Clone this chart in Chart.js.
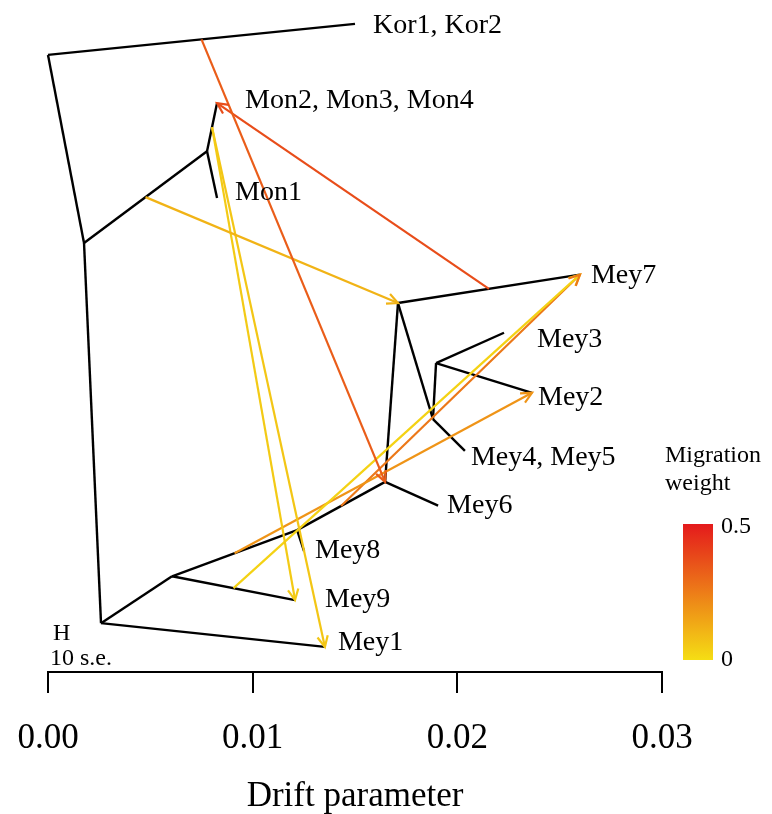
<!DOCTYPE html>
<html>
<head>
<meta charset="utf-8">
<script src="https://cdn.jsdelivr.net/npm/chart.js@4"></script>
<style>
  html, body { margin: 0; padding: 0; background: #fff; }
  #wrap { width: 772px; height: 814px; }
</style>
</head>
<body>
<div id="wrap"><canvas id="treeChart"></canvas></div>
<script>
// Tree nodes: drift on x, plot height (0..1) on y
const nodeIds = ["korTip", "korNode", "nodeA", "root", "monNode", "monTip", "mon1Tip", "mey1Tip", "nodeB",
  "mey9Tip", "mey8Node", "mey8Tip", "mey6Node", "mey6Tip", "mey7Node", "mey7Tip", "mey45Node", "mey45Tip",
  "mey23Node", "mey3Tip", "mey2Tip"];
const nodeDrift = [0.01500, 0.00000, 0.00176, 0.00259, 0.00777, 0.00826, 0.00826, 0.01353, 0.00606,
  0.01207, 0.01217, 0.01251, 0.01647, 0.01906, 0.01710, 0.02599, 0.01881, 0.02037,
  0.01896, 0.02228, 0.02365];
const nodeHeight = [0.982, 0.935, 0.650, 0.074, 0.789, 0.862, 0.718, 0.038, 0.145,
  0.109, 0.215, 0.183, 0.288, 0.252, 0.559, 0.602, 0.383, 0.335,
  0.468, 0.514, 0.423];

// Tree edges (parent -> child)
const edgeParent = ["root", "nodeA", "korNode", "nodeA", "monNode", "monNode", "root", "root", "nodeB", "nodeB",
  "mey8Node", "mey8Node", "mey6Node", "mey6Node", "mey7Node", "mey7Node", "mey45Node", "mey45Node", "mey23Node", "mey23Node"];
const edgeChild = ["nodeA", "korNode", "korTip", "monNode", "monTip", "mon1Tip", "mey1Tip", "nodeB", "mey9Tip", "mey8Node",
  "mey8Tip", "mey6Node", "mey6Tip", "mey7Node", "mey7Tip", "mey45Node", "mey45Tip", "mey23Node", "mey3Tip", "mey2Tip"];

// Tip labels
const tipNodes = ["korTip", "monTip", "mon1Tip", "mey7Tip", "mey3Tip", "mey2Tip", "mey45Tip", "mey6Tip", "mey8Tip", "mey9Tip", "mey1Tip"];
const tipLabels = ["Kor1, Kor2", "Mon2, Mon3, Mon4", "Mon1", "Mey7", "Mey3", "Mey2", "Mey4, Mey5", "Mey6", "Mey8", "Mey9", "Mey1"];

// Migration edges: source = midpoint of the edge above the given child node
const migSourceEdge = ["korTip", "mey7Tip", "monNode", "monTip", "monTip", "mey9Tip", "mey8Node", "mey6Node"];
const migTarget = ["mey6Node", "monTip", "mey7Node", "mey9Tip", "mey1Tip", "mey7Tip", "mey2Tip", "mey7Tip"];
const migWeight = [0.33, 0.37, 0.11, 0.05, 0.06, 0.03, 0.19, 0.26];

// Axis
const tickValues = [0, 0.01, 0.02, 0.03];
const tickLabels = ["0.00", "0.01", "0.02", "0.03"];

const serif = "'Liberation Serif', 'Times New Roman', serif";

function pt(id) {
  const i = nodeIds.indexOf(id);
  return { x: nodeDrift[i], y: nodeHeight[i] };
}

// yellow (0) -> red (0.5)
function weightColor(w) {
  const t = Math.max(0, Math.min(1, w / 0.5));
  const r = Math.round(245 - 17 * t);
  const g = Math.round(222 - 196 * t);
  const b = Math.round(20 + 8 * t);
  return `rgb(${r},${g},${b})`;
}

const datasets = [];
edgeParent.forEach((p, i) => {
  datasets.push({
    data: [pt(p), pt(edgeChild[i])],
    showLine: true, borderColor: "#000", borderWidth: 2.4,
    pointRadius: 0, pointHoverRadius: 0, clip: false, order: 1
  });
});
migSourceEdge.forEach((c, i) => {
  const parent = edgeParent[edgeChild.indexOf(c)];
  const a = pt(parent), b = pt(c);
  datasets.push({
    data: [{ x: (a.x + b.x) / 2, y: (a.y + b.y) / 2 }, pt(migTarget[i])],
    showLine: true, borderColor: weightColor(migWeight[i]), borderWidth: 2.2,
    pointRadius: 0, pointHoverRadius: 0, clip: false, order: 0, isMigration: true
  });
});

// Arrowheads at the end of each migration line
const arrowPlugin = {
  id: "arrows",
  afterDatasetsDraw(chart) {
    const ctx = chart.ctx;
    chart.data.datasets.forEach((ds, i) => {
      if (!ds.isMigration) return;
      const pts = chart.getDatasetMeta(i).data;
      const p0 = pts[0], p1 = pts[1];
      const ang = Math.atan2(p1.y - p0.y, p1.x - p0.x);
      const len = 12, spread = 0.45;
      ctx.save();
      ctx.strokeStyle = ds.borderColor;
      ctx.lineWidth = 2.2;
      ctx.beginPath();
      ctx.moveTo(p1.x - len * Math.cos(ang - spread), p1.y - len * Math.sin(ang - spread));
      ctx.lineTo(p1.x, p1.y);
      ctx.lineTo(p1.x - len * Math.cos(ang + spread), p1.y - len * Math.sin(ang + spread));
      ctx.stroke();
      ctx.restore();
    });
  }
};

// Tip labels, root label, colour key
const labelDx = [18, 28, 18, 11, 33, 6, 6, 9, 11, 30, 13];
const labelDy = [9, 5, 2, 8, 14, 12, 14, 7, 7, 7, 3];
const labelPlugin = {
  id: "labels",
  afterDraw(chart) {
    const ctx = chart.ctx;
    const xs = chart.scales.x, ys = chart.scales.y;
    ctx.save();
    ctx.fillStyle = "#000";
    ctx.textBaseline = "alphabetic";
    ctx.textAlign = "left";
    ctx.font = "28px " + serif;
    tipNodes.forEach((id, i) => {
      const p = pt(id);
      ctx.fillText(tipLabels[i], xs.getPixelForValue(p.x) + labelDx[i], ys.getPixelForValue(p.y) + labelDy[i]);
    });
    const r = pt("root");
    ctx.font = "24px " + serif;
    ctx.fillText("H", xs.getPixelForValue(r.x) - 48, ys.getPixelForValue(r.y) + 17);
    ctx.fillText("10 s.e.", 50, 665);

    // colour key
    ctx.fillText("Migration", 665, 462);
    ctx.fillText("weight", 665, 490);
    const top = 524, bottom = 660;
    const grad = ctx.createLinearGradient(0, bottom, 0, top);
    for (let k = 0; k <= 10; k++) grad.addColorStop(k / 10, weightColor(0.05 * k));
    ctx.fillStyle = grad;
    ctx.fillRect(683, top, 30, bottom - top);
    ctx.fillStyle = "#000";
    ctx.fillText("0.5", 721, 533);
    ctx.fillText("0", 721, 666);
    ctx.restore();
  }
};

new Chart(document.getElementById("treeChart"), {
  type: "scatter",
  data: { datasets },
  options: {
    responsive: true,
    maintainAspectRatio: false,
    animation: false,
    events: [],
    layout: { padding: { left: 48, right: 110, top: 12, bottom: 0 } },
    plugins: { legend: { display: false }, tooltip: { enabled: false } },
    scales: {
      x: {
        type: "linear", min: 0, max: 0.03,
        afterBuildTicks: (scale) => { scale.ticks = tickValues.map(v => ({ value: v })); },
        afterFit: (scale) => {
          scale.height = 142;
          scale.paddingLeft = 0;
          scale.paddingRight = 0;
        },
        border: { display: true, color: "#000", width: 2 },
        grid: { drawOnChartArea: false, drawTicks: true, tickLength: 21, color: "#000", lineWidth: 2 },
        ticks: {
          color: "#000", padding: 25, maxRotation: 0,
          font: { family: serif, size: 35 },
          callback: (v, i) => tickLabels[i]
        },
        title: {
          display: true, text: "Drift parameter", color: "#000",
          font: { family: serif, size: 35, lineHeight: 1.0 },
          padding: { top: 0, bottom: 0 }
        }
      },
      y: { display: false, min: 0, max: 1 }
    }
  },
  plugins: [arrowPlugin, labelPlugin]
});
</script>
</body>
</html>
